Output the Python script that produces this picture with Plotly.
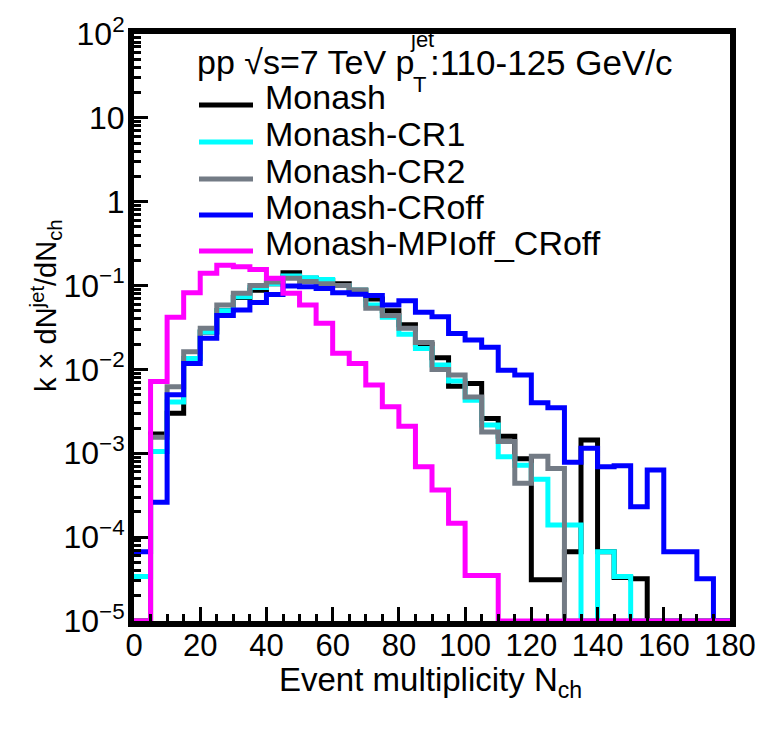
import plotly.graph_objects as go

# ---------------- data (bin width 5, edges 0..180) ----------------
bin_edges = list(range(0, 185, 5))

monash = [0, 1.7e-3, 3.0e-3, 0.0135, 0.028, 0.050, 0.072, 0.088, 0.105, 0.142,
          0.122, 0.115, 0.105, 0.088, 0.069, 0.050, 0.034, 0.020, 0.0138, 0.0063,
          0.0068, 0.0026, 0.0016, 8.6e-4, 3.1e-5, 3.1e-5, 6.7e-5, 1.44e-3, 6.7e-5, 3.3e-5,
          3.2e-5, 0, 0, 0, 0, 0]
monash_cr1 = [3.4e-5, 1.05e-3, 4.1e-3, 0.0135, 0.028, 0.050, 0.0736, 0.095, 0.105, 0.130,
              0.124, 0.118, 0.100, 0.088, 0.0586, 0.042, 0.0262, 0.0178, 0.0113, 0.0073,
              0.0043, 0.00217, 9.1e-4, 7.2e-4, 4.9e-4, 1.4e-4, 1.4e-4, 0, 6.7e-5, 3.4e-5,
              0, 0, 0, 0, 0, 0]
monash_cr2 = [0, 1.55e-3, 6.2e-3, 0.0163, 0.031, 0.0586, 0.081, 0.100, 0.110, 0.122,
              0.112, 0.105, 0.100, 0.0885, 0.0536, 0.044, 0.031, 0.021, 0.0100, 0.0086,
              0.0047, 0.0018, 0.00138, 4.4e-4, 9.2e-4, 6.6e-4, 0, 0, 0, 0,
              0, 0, 0, 0, 0, 0]
monash_croff = [6.7e-5, 2.6e-4, 5.0e-3, 0.0118, 0.0235, 0.044, 0.051, 0.063, 0.078, 0.099,
                0.097, 0.092, 0.082, 0.079, 0.076, 0.0586, 0.066, 0.048, 0.0426, 0.0268,
                0.0224, 0.0184, 0.0098, 0.0086, 0.0040, 0.0035, 7.8e-4, 1.15e-3, 6.9e-4, 7.1e-4,
                2.3e-4, 6.3e-4, 6.7e-5, 6.7e-5, 3.2e-5, 0]
monash_mpioff = [0, 0.0072, 0.042, 0.082, 0.140, 0.175, 0.168, 0.155, 0.122, 0.081,
                 0.0586, 0.0355, 0.0156, 0.0118, 0.0065, 0.0036, 0.0021, 6.9e-4, 3.65e-4, 1.46e-4,
                 3.5e-5, 3.5e-5, 0, 0, 0, 0, 0, 0, 0, 0,
                 0, 0, 0, 0, 0, 0]

series_names = ["Monash", "Monash-CR1", "Monash-CR2", "Monash-CRoff", "Monash-MPIoff_CRoff"]
series_values = [monash, monash_cr1, monash_cr2, monash_croff, monash_mpioff]
series_colors = ["#000000", "#00ffff", "#737b85", "#0000ff", "#ff00ff"]

x_tick_vals = [0, 20, 40, 60, 80, 100, 120, 140, 160, 180]
y_tick_vals = [1e-5, 1e-4, 1e-3, 1e-2, 1e-1, 1, 10, 100]
y_tick_text = ["10<sup>\u22125</sup>", "10<sup>\u22124</sup>", "10<sup>\u22123</sup>",
               "10<sup>\u22122</sup>", "10<sup>\u22121</sup>", "1", "10", "10<sup>2</sup>"]

YMIN = 1e-5
FONT = "Liberation Sans, Arial, Helvetica, sans-serif"

# ---------------- figure geometry (page pixels) ----------------
W, H = 757, 734
L, R, T, B = 134, 730, 34, 621


def px(xp):
    return (xp - L) / (R - L)


def py(yp):
    return (B - yp) / (B - T)


fig = go.Figure()
for name, vals, col in zip(series_names, series_values, series_colors):
    yv = [max(v, YMIN) for v in vals]
    fig.add_trace(go.Scatter(
        x=bin_edges, y=yv + [yv[-1]], mode="lines", name=name,
        line=dict(color=col, width=5, shape="hv"), showlegend=False,
        hoverinfo="skip"))

minor_y = [k * 10 ** e for e in range(-5, 2) for k in range(2, 10)]

fig.update_layout(
    width=W, height=H,
    margin=dict(l=L, r=W - R, t=T, b=H - B, autoexpand=False),
    paper_bgcolor="white", plot_bgcolor="white",
    font=dict(family=FONT, color="black", size=30),
    xaxis=dict(range=[0, 180], showgrid=False, zeroline=False, automargin=False,
               showline=True, linecolor="black", linewidth=6, mirror=True,
               ticks="inside", ticklen=14, tickwidth=3, tickcolor="black",
               tickmode="array", tickvals=x_tick_vals, ticklabelstandoff=-8,
               tickfont=dict(size=31, family=FONT),
               minor=dict(ticks="inside", ticklen=7, tickwidth=3, tickcolor="black", dtick=5, showgrid=False)),
    yaxis=dict(type="log", range=[-5, 2], showgrid=False, zeroline=False, automargin=False,
               showline=True, linecolor="black", linewidth=6, mirror=True,
               ticks="inside", ticklen=14, tickwidth=3, tickcolor="black",
               tickmode="array", tickvals=y_tick_vals, ticktext=y_tick_text, ticklabelstandoff=-3,
               tickfont=dict(size=32, family=FONT),
               minor=dict(ticks="inside", ticklen=7, tickwidth=3, tickcolor="black",
                          tickmode="array", tickvals=minor_y, showgrid=False)),
)

ann = []
# axis titles
ann.append(dict(x=px(430), y=py(682), xref="paper", yref="paper",
                text="Event multiplicity N<sub>ch</sub>", showarrow=False,
                font=dict(size=33, family=FONT), xanchor="center", yanchor="middle"))
ann.append(dict(x=px(46), y=py(306), xref="paper", yref="paper",
                text="k \u00d7 dN<sup>jet</sup>/dN<sub>ch</sub>", showarrow=False, textangle=-90,
                font=dict(size=29, family=FONT), xanchor="center", yanchor="middle"))
# header
ann.append(dict(x=px(416), y=py(62), xref="paper", yref="paper", text="pp \u221as=7 TeV p",
                showarrow=False, font=dict(size=34, family=FONT), xanchor="right", yanchor="middle"))
ann.append(dict(x=px(408), y=py(39), xref="paper", yref="paper", text="jet",
                showarrow=False, font=dict(size=22, family=FONT), xanchor="left", yanchor="middle"))
ann.append(dict(x=px(411), y=py(85), xref="paper", yref="paper", text="T",
                showarrow=False, font=dict(size=22, family=FONT), xanchor="left", yanchor="middle"))
ann.append(dict(x=px(428), y=py(62), xref="paper", yref="paper", text=":110-125 GeV/c",
                showarrow=False, font=dict(size=35, family=FONT), xanchor="left", yanchor="middle"))

# legend
shapes = []
leg_line_y = [105, 142, 179, 215, 251]
for i, (name, col) in enumerate(zip(series_names, series_colors)):
    yl = leg_line_y[i]
    shapes.append(dict(type="line", xref="paper", yref="paper",
                       x0=px(199), x1=px(253), y0=py(yl), y1=py(yl),
                       line=dict(color=col, width=5)))
    ann.append(dict(x=px(263), y=py(yl - 8), xref="paper", yref="paper", text=name,
                    showarrow=False, font=dict(size=34, family=FONT), xanchor="left", yanchor="middle"))

fig.update_layout(annotations=ann, shapes=shapes)
fig.write_html("out.html", config={"displayModeBar": False},
               post_script="document.body.style.margin='0px';")
